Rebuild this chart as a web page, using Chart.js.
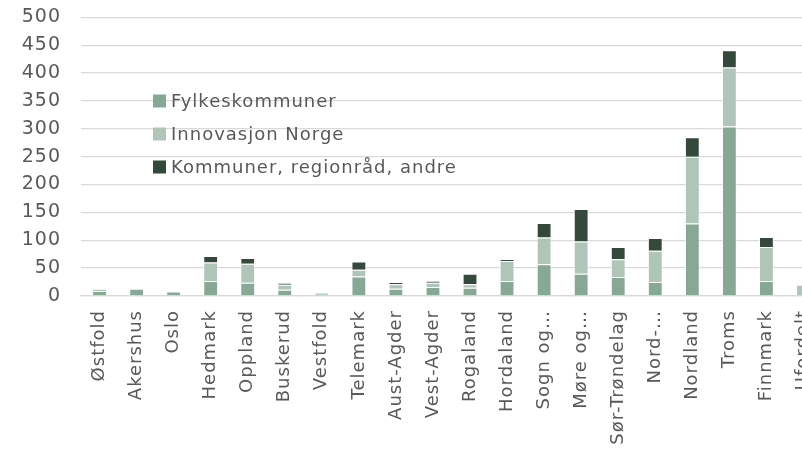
<!DOCTYPE html>
<html>
<head>
<meta charset="utf-8">
<script src="https://cdn.jsdelivr.net/npm/chart.js@4"></script>
<style>
  html, body { margin: 0; padding: 0; background: #fff; overflow: hidden; }
  #wrap { position: absolute; left: 0; top: -14px; width: 840px; height: 467px; }
</style>
</head>
<body>
<div id="wrap"><canvas id="c" width="840" height="467"></canvas></div>
<script>
const categories = ["Østfold","Akershus","Oslo","Hedmark","Oppland","Buskerud","Vestfold","Telemark","Aust-Agder","Vest-Agder","Rogaland","Hordaland","Sogn og…","Møre og…","Sør-Trøndelag","Nord-…","Nordland","Troms","Finnmark","Ufordelt"];
const fylkeskommuner = [9,13,8,27,24,11,4,35,13,16,15,27,57,40,34,25,130,304,27,0];
const innovasjonNorge = [4,0,1,33,34,9,3,12,8,8,6,36,48,58,32,56,120,106,61,20];
const kommunerAndre = [0,0,0,12,10,4,0,15,4,3,19,3,26,58,22,23,35,31,18,0];
const seriesNames = ["Fylkeskommuner","Innovasjon Norge","Kommuner, regionråd, andre"];
const yTicks = [0,50,100,150,200,250,300,350,400,450,500];

const colors = ["#86A895","#AFC5B8","#34483C"];
const FONT = '"DejaVu Sans", sans-serif';
const TEXT = "#595959";
const SPACING = "1px";
const SHIFT = 14;

const spacingPlugin = {
  id: "spacing",
  beforeUpdate(chart) { chart.ctx.letterSpacing = SPACING; },
  beforeLayout(chart) { chart.ctx.letterSpacing = SPACING; },
  beforeDraw(chart) { chart.ctx.letterSpacing = SPACING; }
};

const legendPlugin = {
  id: "customLegend",
  afterDraw(chart) {
    const ctx = chart.ctx;
    ctx.save();
    ctx.letterSpacing = SPACING;
    ctx.font = "18px " + FONT;
    ctx.textBaseline = "middle";
    ctx.textAlign = "left";
    chart.data.datasets.forEach((ds, i) => {
      const cy = SHIFT + 101 + i * 33;
      ctx.fillStyle = ds.backgroundColor;
      ctx.fillRect(153, cy - 6.5, 13, 13);
      ctx.fillStyle = TEXT;
      ctx.fillText(ds.label, 171, cy + 1);
    });
    ctx.restore();
  }
};

const ds = (label, data, color) => ({
  label, data, backgroundColor: color,
  borderColor: "rgba(255,255,255,0.7)", borderWidth: 1, borderSkipped: "bottom",
  categoryPercentage: 1.0, barPercentage: 0.4
});

new Chart(document.getElementById("c"), {
  type: "bar",
  data: {
    labels: categories,
    datasets: [
      ds(seriesNames[0], fylkeskommuner, colors[0]),
      ds(seriesNames[1], innovasjonNorge, colors[1]),
      ds(seriesNames[2], kommunerAndre, colors[2])
    ]
  },
  options: {
    responsive: false,
    animation: false,
    devicePixelRatio: 1,
    layout: { padding: { top: 0, right: 18, bottom: 0, left: 0 } },
    plugins: { legend: { display: false }, tooltip: { enabled: false } },
    scales: {
      x: {
        stacked: true,
        grid: { display: false, drawTicks: false },
        border: { display: true, color: "#d9d9d9", width: 1.3 },
        ticks: {
          color: TEXT, font: { family: FONT, size: 18 },
          minRotation: 90, maxRotation: 90, autoSkip: false, padding: 14
        },
        afterFit(scale) { scale.height = 157; }
      },
      y: {
        stacked: true,
        min: 0, max: 500,
        afterBuildTicks(scale) { scale.ticks = yTicks.map(v => ({ value: v })); },
        grid: { color: "#d9d9d9", lineWidth: 1.3, drawTicks: false },
        border: { display: false },
        ticks: { color: TEXT, font: { family: FONT, size: 19 }, padding: 20 },
        afterFit(scale) { scale.width = 81; }
      }
    }
  },
  plugins: [spacingPlugin, legendPlugin]
});
</script>
</body>
</html>
